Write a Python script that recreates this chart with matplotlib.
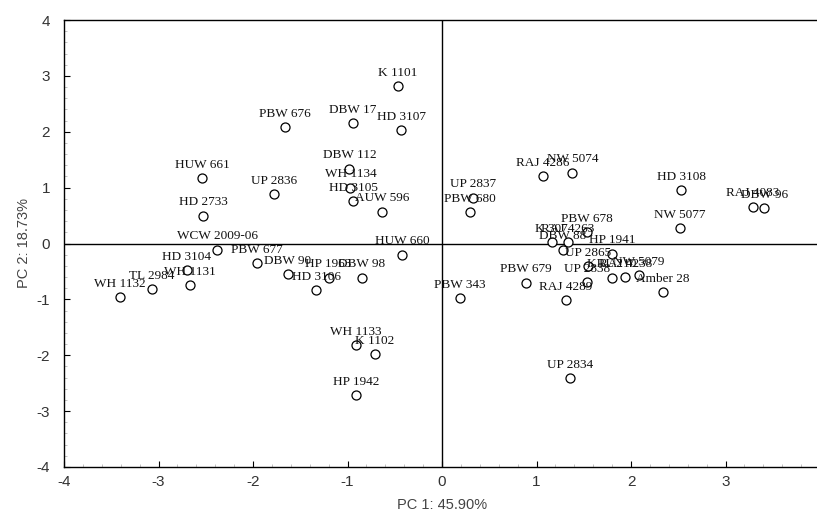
import numpy as np
import matplotlib
matplotlib.use("Agg")
import matplotlib.pyplot as plt
from matplotlib import ticker

plt.rcParams['axes.unicode_minus'] = False

# genotype names and PCA scores
genotipi = ['K 1101', 'PBW 676', 'DBW 17', 'HD 3107', 'DBW 112', 'WH 1134', 'HD 3105',
            'AUW 596', 'HUW 661', 'UP 2836', 'HD 2733', 'WCW 2009-06', 'PBW 677', 'DBW 90',
            'HP 1963', 'DBW 98', 'HD 3106', 'HUW 660', 'HD 3104', 'WH 1131', 'TL 2984',
            'WH 1132', 'PBW 343', 'WH 1133', 'K 1102', 'HP 1942', 'RAJ 4286', 'NW 5074',
            'UP 2837', 'PBW 680', 'HD 3108', 'RAJ 4083', 'DBW 96', 'NW 5077', 'PBW 678',
            'K 307', 'RAJ 4263', 'DBW 88', 'HP 1941', 'UP 2865', 'UP 2838', 'RAJ 4289',
            'PBW 679', 'KRL 210', 'RAJ 4238', 'NW 5079', 'Amber 28', 'UP 2834']
pc1 = [-0.47, -1.66, -0.94, -0.43, -0.98, -0.97, -0.94,
       -0.63, -2.54, -1.78, -2.53, -2.38, -1.96, -1.63,
       -1.20, -0.85, -1.33, -0.42, -2.70, -2.67, -3.07,
       -3.41, 0.19, -0.91, -0.71, -0.91, 1.07, 1.38,
       0.33, 0.30, 2.53, 3.29, 3.41, 2.52, 1.53,
       1.16, 1.33, 1.28, 1.80, 1.55, 1.53, 1.31,
       0.89, 1.80, 1.94, 2.08, 2.34, 1.35]
pc2 = [2.81, 2.08, 2.15, 2.03, 1.34, 1.00, 0.76,
       0.57, 1.17, 0.89, 0.50, -0.11, -0.35, -0.55,
       -0.61, -0.61, -0.84, -0.20, -0.47, -0.75, -0.81,
       -0.96, -0.97, -1.82, -1.98, -2.72, 1.21, 1.27,
       0.82, 0.56, 0.95, 0.66, 0.63, 0.28, 0.21,
       0.02, 0.02, -0.11, -0.18, -0.41, -0.69, -1.02,
       -0.70, -0.61, -0.60, -0.56, -0.87, -2.41]
xticks = [-4, -3, -2, -1, 0, 1, 2, 3]
yticks = [-4, -3, -2, -1, 0, 1, 2, 3, 4]

fig = plt.figure(figsize=(8.17, 5.12), dpi=100)
ax = fig.add_axes([64/817, 45/512, 756/817, 447/512])

ax.axhline(0, color='black', linewidth=1, zorder=1)
ax.axvline(0, color='black', linewidth=1, zorder=1)
ax.plot(pc1, pc2, linestyle='none', marker='o', markersize=6.5,
        markerfacecolor='white', markeredgecolor='black', markeredgewidth=0.9, zorder=2)

for nome, x, y in zip(genotipi, pc1, pc2):
    ax.annotate(nome, (x, y), xytext=(0, 9.5), textcoords='offset points',
                ha='center', va='center', fontsize=9.5, family='Liberation Serif',
                color='#111111', zorder=3)

ax.set_xlim(-4, 4)
ax.set_ylim(-4, 4)
ax.set_xticks(xticks)
ax.set_yticks(yticks)
ax.xaxis.set_minor_locator(ticker.MultipleLocator(0.2))
ax.yaxis.set_minor_locator(ticker.MultipleLocator(0.2))
ax.tick_params(which='major', direction='in', length=4, width=0.8, labelsize=11,
               labelcolor='#333333', top=False, right=False)
ax.tick_params(which='minor', direction='in', length=2, width=0.5, color='#aaaaaa',
               top=False, right=False)
ax.tick_params(axis='y', pad=10)
ax.tick_params(axis='x', pad=6)
for lab in ax.get_xticklabels() + ax.get_yticklabels():
    lab.set_family('Liberation Sans')

ax.set_xlabel('PC 1: 45.90%', fontsize=10.5, family='Liberation Sans', color='#444444', labelpad=6)
ax.set_ylabel('PC 2: 18.73%', fontsize=10.5, family='Liberation Sans', color='#444444', labelpad=4)
for sp in ax.spines.values():
    sp.set_linewidth(1)

fig.savefig('out.png', dpi=100)
